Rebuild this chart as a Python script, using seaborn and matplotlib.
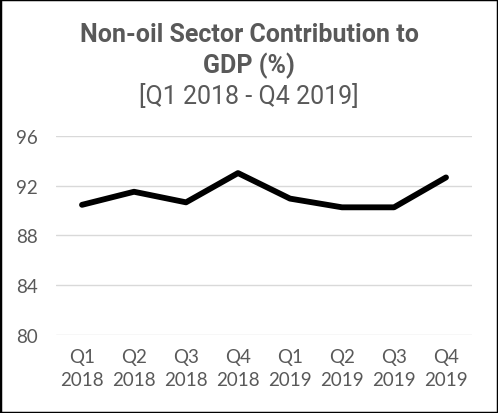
import pandas as pd
import matplotlib.pyplot as plt
import seaborn as sns
from matplotlib.patches import Rectangle

# Quarter labels and non-oil share of GDP (%)
quarters = ['Q1\n2018', 'Q2\n2018', 'Q3\n2018', 'Q4\n2018',
            'Q1\n2019', 'Q2\n2019', 'Q3\n2019', 'Q4\n2019']
non_oil_share = [90.45, 91.5, 90.65, 93.0, 90.95, 90.25, 90.25, 92.65]
y_ticks = [80, 84, 88, 92, 96]

df = pd.DataFrame({'Quarter': quarters, 'Share': non_oil_share})

sns.set_style('white')
plt.rcParams['font.family'] = ['Lato', 'DejaVu Sans']

text_gray = '#595959'

fig = plt.figure(figsize=(4.98, 4.14), dpi=100)
ax = fig.add_axes([56 / 498, 1 - 336 / 414, (472 - 56) / 498, (336 - 136.7) / 414])

sns.lineplot(data=df, x='Quarter', y='Share', ax=ax, color='black',
             linewidth=4.2, sort=False)

ax.set_xlim(-0.5, 7.5)
ax.set_ylim(80, 96)
ax.set_yticks(y_ticks)
ax.yaxis.grid(True, color='#d9d9d9', linewidth=1)
ax.set_axisbelow(True)
for side in ['top', 'right', 'left', 'bottom']:
    ax.spines[side].set_visible(False)
ax.tick_params(axis='both', length=0, labelsize=13.5, labelcolor=text_gray)
ax.tick_params(axis='y', pad=13)
ax.tick_params(axis='x', pad=9)
for lbl in ax.get_xticklabels():
    lbl.set_linespacing(1.5)
ax.set_xlabel('')
ax.set_ylabel('')

fig.text(0.5, 1 - 35 / 414, 'Non-oil Sector Contribution to', ha='center', va='center',
         fontsize=18, fontweight='bold', color=text_gray, family='Roboto')
fig.text(0.5, 1 - 66 / 414, 'GDP (%)', ha='center', va='center',
         fontsize=18, fontweight='bold', color=text_gray, family='Roboto')
fig.text(0.5, 1 - 97 / 414, '[Q1 2018 - Q4 2019]', ha='center', va='center',
         fontsize=18, color=text_gray, family='Roboto')

fig.patches.append(Rectangle((0, 0), 1, 1, transform=fig.transFigure, fill=False,
                             edgecolor='black', linewidth=2.5))

fig.savefig('out.png', dpi=100)
